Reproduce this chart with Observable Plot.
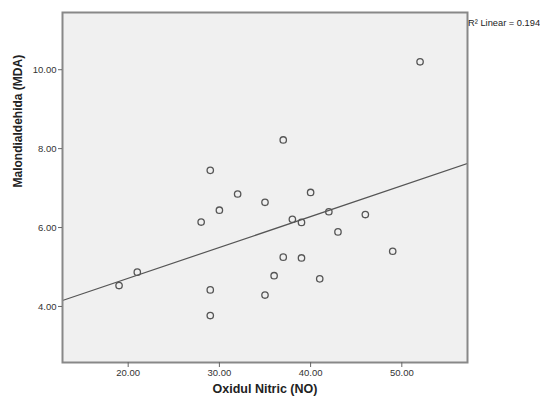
<!DOCTYPE html>
<html>
<head>
<meta charset="utf-8">
<script src="https://cdn.jsdelivr.net/npm/d3@7"></script>
<script src="https://cdn.jsdelivr.net/npm/@observablehq/plot@0.6"></script>
<style>
  body { margin: 0; background: #fff; }
  #chart svg { font-family: "Liberation Sans", Arial, sans-serif; }
</style>
</head>
<body>
<div id="chart"></div>
<script>
// Oxidul Nitric (NO) vs Malondialdehida (MDA), one point per subject
const noValues  = [37, 29, 32, 35, 40, 30, 28, 38, 39, 42, 46, 43, 49, 37, 39, 36, 41, 29, 35, 52, 19, 21, 29];
const mdaValues = [8.22, 7.45, 6.85, 6.64, 6.89, 6.44, 6.14, 6.21, 6.13, 6.40, 6.33, 5.89, 5.40, 5.25, 5.23, 4.78, 4.70, 4.42, 4.29, 10.20, 4.53, 4.87, 3.77];
const xTicks = [20, 30, 40, 50];
const yTicks = [4, 6, 8, 10];
const xTitle = "Oxidul Nitric (NO)";
const yTitle = "Malondialdehida (MDA)";
const r2Text = "R\u00B2 Linear = 0.194";

const xDomain = [12.8, 57.2];
const yDomain = [2.58, 11.45];

const points = noValues.map((x, i) => ({x, y: mdaValues[i]}));

// Least-squares fit, drawn across the full x range of the frame
const mx = d3.mean(noValues), my = d3.mean(mdaValues);
const sxy = d3.sum(points, d => (d.x - mx) * (d.y - my));
const sxx = d3.sum(points, d => (d.x - mx) ** 2);
const slope = sxy / sxx;
const intercept = my - slope * mx;
const fitLine = xDomain.map(x => ({x, y: intercept + slope * x}));

const chart = Plot.plot({
  width: 540,
  height: 398,
  marginLeft: 62,
  marginRight: 73,
  marginTop: 12,
  marginBottom: 36,
  x: {domain: xDomain},
  y: {domain: yDomain},
  marks: [
    Plot.frame({fill: "#f0f0f0", stroke: null}),
    Plot.line(fitLine, {x: "x", y: "y", stroke: "#555", strokeWidth: 1.2, clip: true}),
    Plot.dot(points, {x: "x", y: "y", r: 3.2, stroke: "#555", strokeWidth: 1.3, fill: "none"}),
    Plot.frame({stroke: "#888", strokeWidth: 2}),
    Plot.axisX({ticks: xTicks, tickFormat: d => d.toFixed(2), tickSize: 5, tickPadding: 2,
                fontSize: 9.5, label: null, stroke: "#666", fill: "#333"}),
    Plot.axisY({ticks: yTicks, tickFormat: d => d.toFixed(2), tickSize: 4, tickPadding: 2,
                fontSize: 9.5, label: null, stroke: "#666", fill: "#333"}),
    Plot.text([xTitle], {frameAnchor: "bottom", dy: 30, text: d => d,
                fontSize: 12.5, fontWeight: "bold", fill: "#222"}),
    Plot.text([yTitle], {frameAnchor: "left", dx: -44, rotate: -90, text: d => d,
                fontSize: 12, fontWeight: "bold", fill: "#222"}),
    Plot.text([r2Text], {frameAnchor: "top-right", textAnchor: "start", dx: 0.5, dy: 6.5, text: d => d,
                fontSize: 9.3, fill: "#222"})
  ]
});
document.getElementById("chart").append(chart);
</script>
</body>
</html>
